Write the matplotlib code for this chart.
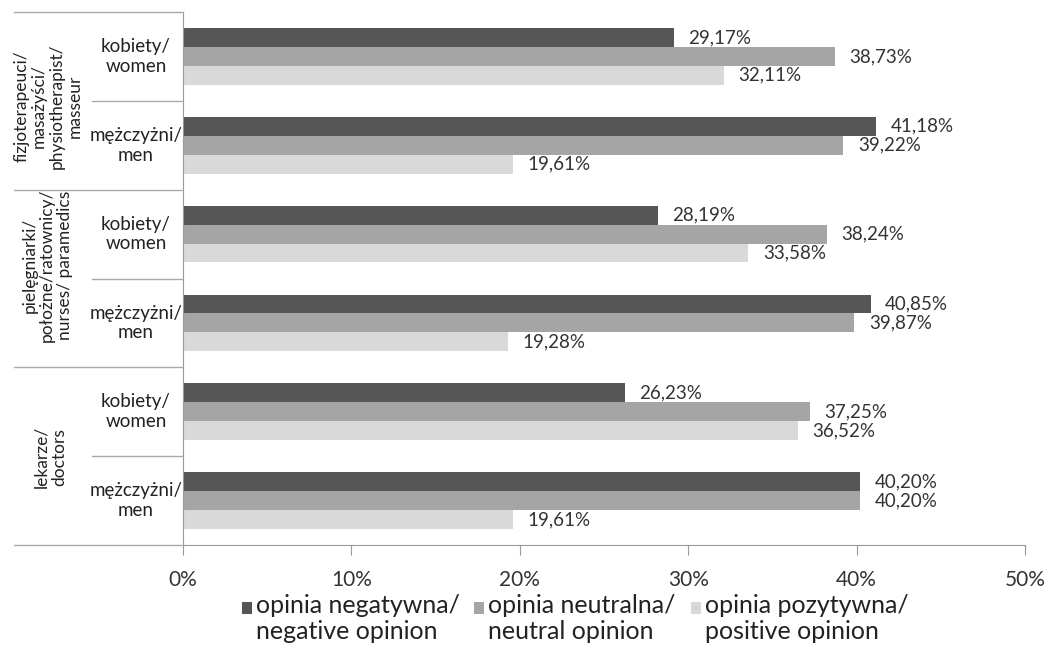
import matplotlib
matplotlib.use("Agg")
import matplotlib.pyplot as plt
from matplotlib.lines import Line2D
from matplotlib.patches import Rectangle
import numpy as np

plt.rcParams['font.family'] = ['Lato', 'DejaVu Sans']

# Data: groups (top to bottom), each with women / men rows
group_labels = ["fizjoterapeuci/\nmasażyści/\nphysiotherapist/\nmasseur",
                "pielęgniarki/\npołożne/ratownicy/\nnurses/ paramedics",
                "lekarze/\ndoctors"]
sub_labels = ["kobiety/\nwomen", "mężczyżni/\nmen"] * 3
series_names = ["opinia negatywna/\nnegative opinion",
                "opinia neutralna/\nneutral opinion",
                "opinia pozytywna/\npositive opinion"]
negative = [29.17, 41.18, 28.19, 40.85, 26.23, 40.20]
neutral = [38.73, 39.22, 38.24, 39.87, 37.25, 40.20]
positive = [32.11, 19.61, 33.58, 19.28, 36.52, 19.61]
xticks = [0, 10, 20, 30, 40, 50]

colors = ["#565656", "#a5a5a5", "#d9d9d9"]
text_color = "#222222"

W, H = 1054, 651
fig = plt.figure(figsize=(W / 100, H / 100), dpi=100)
ax_left, ax_right, ax_top, ax_bottom = 183, 1025, 12, 545
ax = fig.add_axes([ax_left / W, 1 - ax_bottom / H,
                   (ax_right - ax_left) / W, (ax_bottom - ax_top) / H])

n = len(negative)
y = np.arange(n)
bh = 0.213
for k, (vals, col) in enumerate(zip([negative, neutral, positive], colors)):
    pos = y - bh + k * bh
    ax.barh(pos, vals, height=bh, color=col, label=series_names[k])
    for p, v in zip(pos, vals):
        ax.text(v + 0.85, p, f"{v:.2f}%".replace(".", ","), va="center",
                ha="left", fontsize=13.5, color="#333333")

ax.set_xlim(0, 50)
ax.set_ylim(n - 0.5, -0.5)
ax.set_yticks([])
ax.set_xticks(xticks)
ax.set_xticklabels([f"{t}%" for t in xticks], fontsize=15, color="#333333")
ax.tick_params(axis="x", length=7, color="#999999", pad=11)
for s in ["top", "right"]:
    ax.spines[s].set_visible(False)
ax.spines["left"].set_color("#999999")
ax.spines["bottom"].set_color("#999999")

# Category label panel to the left of the axis
def fy(py):
    return 1 - py / H

line_kw = dict(color="#aaaaaa", lw=1, transform=fig.transFigure)
slot = (ax_bottom - ax_top) / n
for i in range(n + 1):
    py = ax_top + i * slot
    x0 = 14 if i % 2 == 0 else 92
    fig.add_artist(Line2D([x0 / W, ax_left / W], [fy(py), fy(py)], **line_kw))

group_anchor = [(48, 106), (47, 265), (50, 457)]
for (gx, gy), lab in zip(group_anchor, group_labels):
    fig.text(gx / W, fy(gy), lab, rotation=90, ha="center", va="center",
             fontsize=12.5, color=text_color, linespacing=1.12,
             multialignment="center")
for i, lab in enumerate(sub_labels):
    cy = ax_top + (i + 0.5) * slot
    fig.text(136 / W, fy(cy), lab, ha="center", va="center",
             fontsize=13.5, color=text_color, linespacing=1.2)

# Legend: square markers aligned with the first text line
legend_x = [242, 474, 691]
for xs, col, name in zip(legend_x, colors, series_names):
    fig.add_artist(Rectangle((xs / W, fy(614)), 10 / W, 12 / H,
                             facecolor=col, edgecolor="none",
                             transform=fig.transFigure))
    fig.text((xs + 14) / W, fy(594), name, ha="left", va="top",
             fontsize=18, color=text_color, linespacing=1.15)

fig.savefig("out.png", dpi=100)
